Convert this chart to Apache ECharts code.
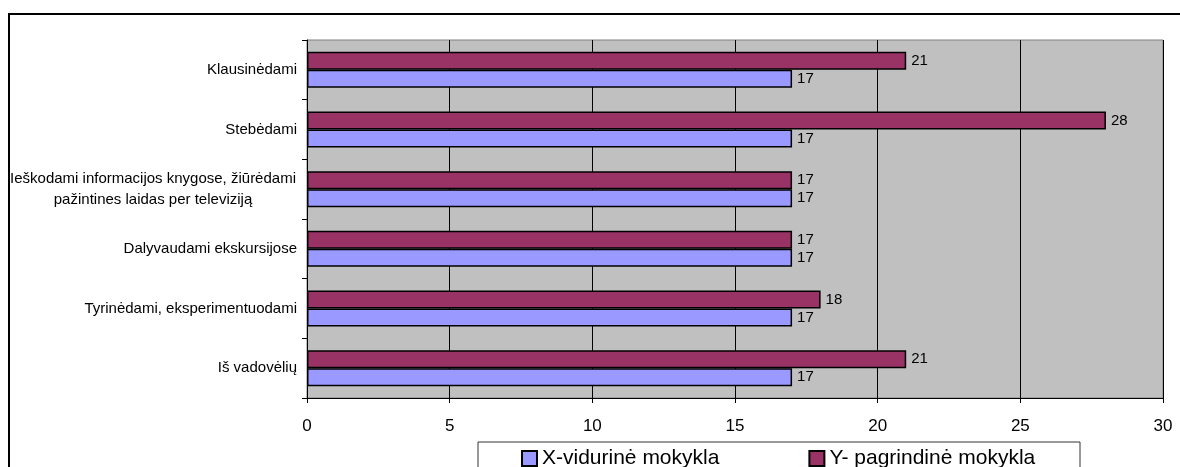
<!DOCTYPE html>
<html>
<head>
<meta charset="utf-8">
<script src="https://cdn.jsdelivr.net/npm/echarts@6/dist/echarts.min.js"></script>
<style>
  html, body { margin: 0; padding: 0; background: #fff; }
  #chart { width: 1180px; height: 467px; }
</style>
</head>
<body>
<div id="chart"></div>
<script>
// categories bottom -> top
const categories = [
  'Iš vadovėlių',
  'Tyrinėdami, eksperimentuodami',
  'Dalyvaudami ekskursijose',
  'Ieškodami informacijos knygose, žiūrėdami\npažintines laidas per televiziją',
  'Stebėdami',
  'Klausinėdami'
]
const seriesXName = 'X-vidurinė mokykla'
const seriesYName = 'Y- pagrindinė mokykla'
const seriesX = [17, 17, 17, 17, 17, 17]
const seriesY = [21, 18, 17, 17, 28, 21]
const xTicks = { min: 0, max: 30, interval: 5 }

const chart = echarts.init(document.getElementById('chart'))

const font = 'Liberation Sans, Arial, sans-serif'

const barLabel = {
  show: true,
  position: 'right',
  distance: 5,
  color: '#000',
  fontSize: 15,
  fontFamily: font
}

const option = {
  animation: false,
  textStyle: { fontFamily: font },
  grid: {
    left: 307,
    right: 17,
    top: 40,
    bottom: 69,
    show: true,
    backgroundColor: '#c0c0c0',
    borderColor: '#808080',
    borderWidth: 1
  },
  graphic: [
    {
      // outer chart frame, runs off the right and bottom edges
      type: 'rect',
      shape: { x: 9, y: 14, width: 1200, height: 470 },
      style: { fill: 'none', stroke: '#000', lineWidth: 2 },
      z: -1
    },
    {
      type: 'rect',
      shape: { x: 478, y: 442, width: 602, height: 40 },
      style: { fill: '#fff', stroke: '#333', lineWidth: 1 },
      z: 0
    }
  ],
  legend: {
    data: [seriesXName, seriesYName],
    left: 516,
    top: 443,
    itemWidth: 15,
    itemHeight: 15,
    itemGap: 89,
    icon: 'rect',
    textStyle: { color: '#000', fontSize: 21, fontFamily: font },
    z: 5
  },
  xAxis: {
    type: 'value',
    min: xTicks.min,
    max: xTicks.max,
    interval: xTicks.interval,
    axisLine: { show: true, lineStyle: { color: '#000', width: 1 } },
    axisTick: { show: true, length: 5, lineStyle: { color: '#000' } },
    axisLabel: { color: '#000', fontSize: 17, margin: 20, fontFamily: font },
    splitLine: { show: true, lineStyle: { color: '#000', width: 1 } }
  },
  yAxis: {
    type: 'category',
    data: categories.map(c => c.indexOf('\n') >= 0
      ? { value: c, textStyle: { align: 'center', padding: [0, 288, 0, 0] } }
      : c),
    axisLine: { show: true, lineStyle: { color: '#000', width: 1 } },
    axisTick: { show: true, length: 5, lineStyle: { color: '#000' } },
    axisLabel: { color: '#000', fontSize: 15, margin: 10, lineHeight: 21, fontFamily: font },
    splitLine: { show: false }
  },
  series: [
    {
      name: seriesYName,
      type: 'bar',
      data: seriesY,
      barWidth: 18,
      barGap: '0%',
      itemStyle: { color: '#993366', borderColor: '#000', borderWidth: 1.5 },
      label: barLabel
    },
    {
      name: seriesXName,
      type: 'bar',
      data: seriesX,
      barWidth: 18,
      barGap: '0%',
      itemStyle: { color: '#9999ff', borderColor: '#000', borderWidth: 1.5 },
      label: barLabel
    }
  ]
}

chart.setOption(option)

window.addEventListener('resize', () => {
  chart && chart.resize()
})
</script>
</body>
</html>
